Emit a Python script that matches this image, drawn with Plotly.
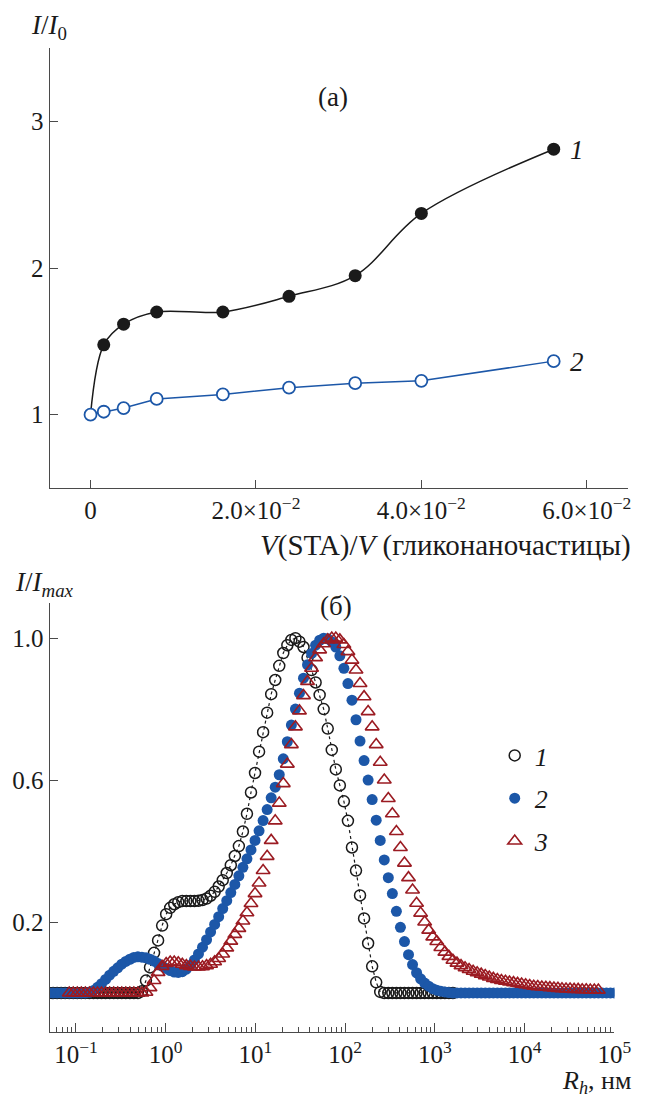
import numpy as np
import plotly.graph_objects as go

# ---------------- Panel (a) data ----------------
conc = [0, 0.0016, 0.004, 0.008, 0.016, 0.024, 0.032, 0.040, 0.056]
a_series1 = [1.00, 1.476, 1.617, 1.70, 1.70, 1.807, 1.948, 2.372, 2.81]
a_series2 = [1.00, 1.02, 1.045, 1.107, 1.138, 1.184, 1.215, 1.231, 1.365]
a_xticks = [0, 0.02, 0.04, 0.06]
a_xticktext = ["0", "2.0×10<sup>−2</sup>", "4.0×10<sup>−2</sup>", "6.0×10<sup>−2</sup>"]
a_yticks = [1, 2, 3]

# ---------------- Panel (б) data ----------------
# instrument size grid: log10(Rh) from -1.3 in steps of 0.045
grid_start, grid_step = -1.3, 0.045

b_series1 = [  # starts at grid index 0
    0, 0, 0, 0, 0, 0, 0, 0, 0, 0,
    0, 0, 0, 0, 0, 0, 0, 0, 0, 0,
    0, 0, 0, 0.005, 0.035, 0.072, 0.113, 0.148, 0.19, 0.222,
    0.24, 0.25, 0.256, 0.259, 0.259, 0.259, 0.259, 0.26, 0.262, 0.266,
    0.274, 0.285, 0.30, 0.318, 0.338, 0.36, 0.386, 0.414, 0.455, 0.505,
    0.565, 0.62, 0.68, 0.735, 0.79, 0.842, 0.882, 0.922, 0.958, 0.98,
    0.995, 1.0, 0.99, 0.975, 0.945, 0.91, 0.875, 0.84, 0.80, 0.745,
    0.685, 0.63, 0.585, 0.54, 0.485, 0.41, 0.345, 0.275, 0.21, 0.14,
    0.075, 0.03, 0.003, 0, 0, 0, 0, 0, 0, 0,
    0, 0, 0, 0, 0, 0, 0, 0, 0, 0,
    0,
]
b_series2 = [  # starts at grid index 0
    0, 0, 0, 0, 0, 0, 0, 0, 0, 0,
    0.002, 0.007, 0.016, 0.026, 0.038, 0.05, 0.061, 0.071, 0.081, 0.089,
    0.095, 0.10, 0.102, 0.101, 0.099, 0.095, 0.09, 0.083, 0.076, 0.069,
    0.063, 0.059, 0.058, 0.06, 0.067, 0.078, 0.093, 0.11, 0.129, 0.15,
    0.172, 0.193, 0.215, 0.238, 0.26, 0.283, 0.306, 0.33, 0.354, 0.378,
    0.403, 0.43, 0.457, 0.486, 0.517, 0.55, 0.58, 0.615, 0.66, 0.708,
    0.755, 0.80, 0.845, 0.887, 0.925, 0.957, 0.98, 0.994, 1.0, 0.998,
    0.99, 0.975, 0.95, 0.915, 0.872, 0.825, 0.77, 0.71, 0.655, 0.60,
    0.545, 0.487, 0.43, 0.375, 0.325, 0.28, 0.23, 0.185, 0.145, 0.108,
    0.08, 0.057, 0.04, 0.028, 0.019, 0.012, 0.008, 0.005, 0.003, 0.001,
    0, 0, 0, 0, 0, 0, 0, 0, 0, 0,
    0, 0, 0, 0, 0, 0, 0, 0, 0, 0,
    0, 0, 0, 0, 0, 0, 0, 0, 0, 0,
    0, 0, 0, 0, 0, 0, 0, 0, 0, 0,
    0,
]
b_series3_start = 5
b_series3 = [  # starts at grid index 5
    0, 0, 0, 0, 0, 0, 0, 0, 0, 0,
    0, 0, 0, 0, 0, 0, 0, 0, 0, 0.002,
    0.015, 0.035, 0.058, 0.075, 0.083, 0.087, 0.087, 0.085, 0.081, 0.077,
    0.075, 0.073, 0.073, 0.074, 0.077, 0.081, 0.088, 0.097, 0.11, 0.127,
    0.146, 0.165, 0.182, 0.203, 0.226, 0.252, 0.28, 0.31, 0.345, 0.385,
    0.43, 0.485, 0.535, 0.59, 0.645, 0.70, 0.75, 0.795, 0.838, 0.878,
    0.915, 0.945, 0.967, 0.984, 0.995, 1.0, 1.0, 0.995, 0.982, 0.962,
    0.938, 0.91, 0.872, 0.835, 0.793, 0.75, 0.70, 0.65, 0.60, 0.548,
    0.505, 0.455, 0.41, 0.366, 0.325, 0.29, 0.253, 0.225, 0.20, 0.177,
    0.158, 0.145, 0.128, 0.115, 0.103, 0.092, 0.084, 0.077, 0.071, 0.066,
    0.061, 0.057, 0.053, 0.049, 0.045, 0.041, 0.038, 0.035, 0.033, 0.031,
    0.029, 0.027, 0.025, 0.023, 0.021, 0.019, 0.018, 0.017, 0.016, 0.015,
    0.014, 0.013, 0.012, 0.011, 0.011, 0.010, 0.010, 0.009, 0.009, 0.008,
    0.008, 0.008,
]
b_xtickvals = [1e-1, 1e0, 1e1, 1e2, 1e3, 1e4, 1e5]
b_xticktext = ["10<sup>−1</sup>", "10<sup>0</sup>", "10<sup>1</sup>", "10<sup>2</sup>",
               "10<sup>3</sup>", "10<sup>4</sup>", "10<sup>5</sup>"]
b_yticks = [0.2, 0.6, 1.0]
b_ytickstext = ["0.2", "0.6", "1.0"]


def rh(start_index, n):
    return [10 ** (grid_start + grid_step * (start_index + k)) for k in range(n)]


x1 = rh(0, len(b_series1))
x2 = rh(0, len(b_series2))
x3 = rh(b_series3_start, len(b_series3))

# ---------------- styling ----------------
FONT = "Liberation Serif, Times New Roman, Times, serif"
AX = "#4a4a4a"
BLACK = "#1a1a1a"
BLUE = "#1c57a8"
RED = "#9b1b22"
W, H = 650, 1099
TICK_SIZE = 25

fig = go.Figure()

# panel (a)
fig.add_trace(go.Scatter(x=conc, y=a_series1, mode="lines", line=dict(color=BLACK, width=1.5, shape="spline", smoothing=1.0),
                         xaxis="x", yaxis="y", showlegend=False, hoverinfo="skip"))
fig.add_trace(go.Scatter(x=conc[1:], y=a_series1[1:], mode="markers",
                         marker=dict(symbol="circle", size=13, color=BLACK),
                         xaxis="x", yaxis="y", showlegend=False))
fig.add_trace(go.Scatter(x=conc, y=a_series2, mode="lines+markers", line=dict(color=BLUE, width=1.5),
                         marker=dict(symbol="circle", size=12, color="white", line=dict(color=BLUE, width=1.8)),
                         xaxis="x", yaxis="y", showlegend=False))

# panel (б)
fig.add_trace(go.Scatter(x=x1, y=b_series1, mode="lines", line=dict(color=BLACK, width=1.2, dash="dot"),
                         xaxis="x2", yaxis="y2", showlegend=False, hoverinfo="skip"))
fig.add_trace(go.Scatter(x=x1, y=b_series1, mode="markers", name="<i>1</i>", legendgroup="g1",
                         marker=dict(symbol="circle-open", size=11, color=BLACK, line=dict(width=1.5)),
                         xaxis="x2", yaxis="y2"))
fig.add_trace(go.Scatter(x=x2, y=b_series2, mode="markers", name="<i>2</i>", legendgroup="g2",
                         marker=dict(symbol="circle", size=11, color=BLUE),
                         xaxis="x2", yaxis="y2"))
fig.add_trace(go.Scatter(x=x3, y=b_series3, mode="markers", name="<i>3</i>", legendgroup="g3",
                         marker=dict(symbol="triangle-up-open", size=12, color=RED, line=dict(width=1.6)),
                         xaxis="x2", yaxis="y2"))


def py(p):
    return 1 - p / H


def axis_style():
    return dict(showline=True, linecolor=AX, linewidth=1.3, ticks="inside", tickcolor=AX, tickwidth=1.2,
                showgrid=False, zeroline=False,
                tickfont=dict(family=FONT, size=TICK_SIZE, color=BLACK))


fig.update_layout(
    width=W, height=H, autosize=False,
    margin=dict(l=0, r=0, t=0, b=0),
    paper_bgcolor="white", plot_bgcolor="white",
    font=dict(family=FONT, color=BLACK, size=TICK_SIZE),
    legend=dict(x=508 / W, y=py(732), xanchor="left", yanchor="top", font=dict(family=FONT, size=26, color=BLACK),
                bgcolor="rgba(0,0,0,0)", tracegroupgap=6, itemwidth=30),
    showlegend=True,
)
fig.update_layout(
    xaxis=dict(domain=[51 / W, 645 / W], range=[-0.00494, 0.0650], tickmode="array",
               tickvals=a_xticks, ticktext=a_xticktext, ticklen=8, anchor="y", **axis_style()),
    yaxis=dict(domain=[py(488), py(48)], range=[0.5, 3.5], tickmode="array", tickvals=a_yticks,
               ticklen=8, anchor="x", **axis_style()),
    xaxis2=dict(domain=[51 / W, 631 / W], type="log", range=[-1.293, 5.0], tickmode="array",
                tickvals=b_xtickvals, ticktext=b_xticktext, ticklen=9, anchor="y2",
                minor=dict(tickmode="array",
                           tickvals=[m * 10 ** k for k in range(-2, 5) for m in range(2, 10)],
                           ticks="inside", ticklen=5, tickcolor=AX, tickwidth=1.1),
                **axis_style()),
    yaxis2=dict(domain=[py(1032), py(603)], range=[-0.11, 1.099], tickmode="array", tickvals=b_yticks,
                ticktext=b_ytickstext, ticklen=8, anchor="x2", **axis_style()),
)

ann_font = dict(family=FONT, size=27, color=BLACK)
annotations = [
    dict(text="<i>I</i>/<i>I</i><sub>0</sub>", x=50 / W, y=py(27)),
    dict(text="(a)", x=342 / W, y=py(97)),
    dict(text="<i>1</i>", x=592 / W, y=py(150)),
    dict(text="<i>2</i>", x=592 / W, y=py(362)),
    dict(text="(б)", x=345 / W, y=py(606)),
    dict(text="<i>I</i>/<i>I</i><sub><i>max</i></sub>", x=46 / W, y=py(584)),
]
for a in annotations:
    fig.add_annotation(xref="paper", yref="paper", showarrow=False, font=ann_font,
                       xanchor="center", yanchor="middle", **a)
fig.add_annotation(xref="paper", yref="paper", showarrow=False, font=dict(family=FONT, size=29, color=BLACK),
                   xanchor="right", yanchor="middle",
                   text="<i>V</i>(STA)/<i>V</i> (гликонаночастицы)", x=650 / W, y=py(545))
fig.add_annotation(xref="paper", yref="paper", showarrow=False, font=dict(family=FONT, size=26, color=BLACK),
                   xanchor="right", yanchor="middle",
                   text="<i>R</i><sub><i>h</i></sub>, нм", x=650 / W, y=py(1082))

fig.write_html(
    "out.html",
    config={"responsive": False, "displayModeBar": False},
    post_script="document.documentElement.style.overflow='hidden';"
                "document.body.style.overflow='hidden';document.body.style.margin='0';",
)
